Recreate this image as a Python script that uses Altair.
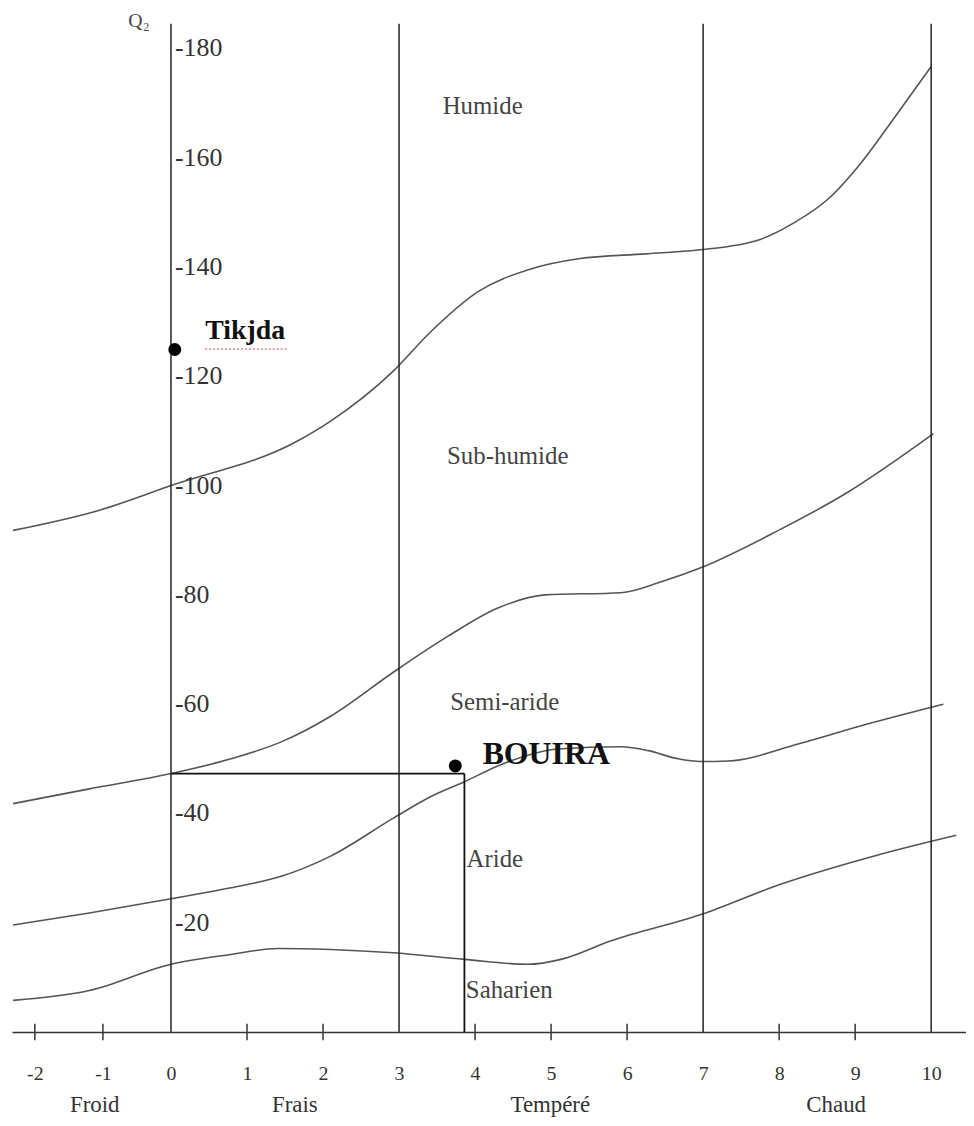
import altair as alt
import pandas as pd

# ---------------- data ----------------
# x: thermal index m (°C), y: Emberger quotient Q2
c1_m = [-2.32, -1.05, 0, 1.67, 2.1, 2.92, 3.42, 4.04, 4.7, 5.36, 6.24, 6.93, 7.76, 8.21, 8.64, 9.08, 9.53, 10.0]
c1_q = [91.8, 95.5, 100, 108.2, 111.8, 120.9, 128.2, 135.5, 139.5, 141.5, 142.4, 143.1, 145.1, 148.2, 152.4, 159.1, 167.6, 176.7]

c2_m = [-2.32, -1.2, 0, 0.79, 1.45, 2.1, 2.92, 3.64, 4.3, 4.92, 5.92, 6.45, 6.96, 7.99, 8.87, 10.03]
c2_q = [41.8, 44.5, 47.3, 50.0, 53.1, 57.8, 65.8, 72.4, 77.6, 80.0, 80.4, 82.4, 84.9, 91.8, 98.5, 109.5]

c3_m = [-2.32, -1.2, 0, 0.79, 1.45, 2.1, 2.92, 3.42, 3.86, 4.3, 5.09, 5.92, 6.28, 6.67, 6.97, 7.33, 8.25, 9.17, 10.16]
c3_q = [19.6, 21.8, 24.4, 26.4, 28.5, 32.2, 39.1, 43.1, 45.8, 48.7, 51.8, 52.2, 51.5, 50.0, 49.5, 49.6, 52.7, 56.4, 60.0]

c4_m = [-2.32, -1.2, 0, 0.79, 1.41, 2.1, 2.92, 3.86, 4.7, 5.13, 5.79, 6.97, 7.99, 9.3, 10.33]
c4_q = [5.8, 7.6, 12.4, 14.2, 15.3, 15.1, 14.5, 13.3, 12.4, 13.3, 16.7, 21.5, 26.9, 32.4, 36.0]

vlines_m = [0, 3, 7, 10]
vline_top = 184.5

x_ticks = [-2, -1, 0, 1, 2, 3, 4, 5, 6, 7, 8, 9, 10]
x_minor_ticks = [-2, -1, 1, 2, 4, 5, 6, 8, 9]

y_label_vals = [180, 160, 140, 120, 100, 80, 60, 40, 20]
y_label_txt = ["-180", "-160", "-140", "-120", "-100", "-80", "-60", "-40", "-20"]

zone_names = ["Humide", "Sub-humide", "Semi-aride", "Aride", "Saharien"]
zone_m = [4.1, 4.43, 4.39, 4.26, 4.45]
zone_q = [169.5, 105.4, 60.4, 31.6, 7.6]

temp_names = ["Froid", "Frais", "Tempéré", "Chaud"]
temp_m = [-1.12, 1.63, 4.99, 8.75]
temp_q = [-13.4, -13.4, -13.4, -13.4]

station_names = ["Tikjda", "BOUIRA"]
station_m = [0.05, 3.74]
station_q = [124.9, 48.7]
label_m = [0.45, 4.1]
label_q = [128.2, 50.9]

bouira_m = 3.86
bouira_q = 47.3

# spell-check squiggle under "Tikjda" in the source document
squiggle_m = [0.45, 1.55]
squiggle_q = [125.0]

# ---------------- frames ----------------
curves = []
for name, ms, qs in [("c1", c1_m, c1_q), ("c2", c2_m, c2_q), ("c3", c3_m, c3_q), ("c4", c4_m, c4_q)]:
    for i, (m, q) in enumerate(zip(ms, qs)):
        curves.append({"curve": name, "o": i, "m": m, "q": q})
curves_df = pd.DataFrame(curves)

vl_df = pd.DataFrame({"m": vlines_m, "q0": [0] * len(vlines_m), "q1": [vline_top] * len(vlines_m)})
tick_df = pd.DataFrame({"m": x_minor_ticks, "q0": [-1.5] * len(x_minor_ticks), "q1": [1.5] * len(x_minor_ticks)})
ylab_df = pd.DataFrame({"m": [0] * len(y_label_vals), "q": y_label_vals, "t": y_label_txt})
zone_df = pd.DataFrame({"m": zone_m, "q": zone_q, "t": zone_names})
temp_df = pd.DataFrame({"m": temp_m, "q": temp_q, "t": temp_names})
st_df = pd.DataFrame({"m": station_m, "q": station_q, "t": station_names})
tik_df = pd.DataFrame({"m": label_m[:1], "q": label_q[:1], "t": station_names[:1]})
bou_df = pd.DataFrame({"m": label_m[1:], "q": label_q[1:], "t": station_names[1:]})
hline_df = pd.DataFrame({"m0": [0], "m1": [bouira_m], "q": [bouira_q]})
vline2_df = pd.DataFrame({"m": [bouira_m], "q0": [0], "q1": [bouira_q]})
q2_df = pd.DataFrame({"m": [-0.47], "q": [185.0], "t": ["Q₂"]})
sq_df = pd.DataFrame({"m0": [squiggle_m[0]], "m1": [squiggle_m[1]], "q": squiggle_q})

SERIF = "Liberation Serif"
# the printed axis is compressed on its negative side: piecewise linear scale
xs = alt.Scale(domain=[-2.336, 0, 10.458], range=[0, 160, 960], nice=False, zero=False)
ys = alt.Scale(domain=[0, 186.4], nice=False, zero=False)

x_axis = alt.Axis(values=x_ticks, grid=False, ticks=False, tickSize=0, domain=True,
                  domainColor="#333333", domainWidth=1.5, labelFont=SERIF, labelFontSize=20,
                  labelColor="#333333", labelPadding=42, labelBaseline="middle",
                  labelExpr="'' + datum.value",
                  labelFlush=False, labelOverlap=False, title=None)


def X(field="m"):
    return alt.X(f"{field}:Q", scale=xs, axis=x_axis)


def Y(field="q"):
    return alt.Y(f"{field}:Q", scale=ys, axis=None)


curves_layer = alt.Chart(curves_df).mark_line(color="#555555", strokeWidth=1.6, interpolate="monotone").encode(
    x=X(), y=Y(), detail="curve:N", order="o:Q")

vl_layer = alt.Chart(vl_df).mark_rule(color="#222222", strokeWidth=1.5).encode(
    x=X(), y=Y("q0"), y2="q1:Q")

tick_layer = alt.Chart(tick_df).mark_rule(color="#333333", strokeWidth=1.5).encode(
    x=X(), y=Y("q0"), y2="q1:Q")

h_layer = alt.Chart(hline_df).mark_rule(color="#111111", strokeWidth=1.8).encode(
    x=X("m0"), x2="m1:Q", y=Y())

v2_layer = alt.Chart(vline2_df).mark_rule(color="#111111", strokeWidth=1.8).encode(
    x=X(), y=Y("q0"), y2="q1:Q")

ylab_layer = alt.Chart(ylab_df).mark_text(font=SERIF, fontSize=26, color="#333333", align="left",
                                          baseline="middle", dx=4).encode(
    x=X(), y=Y(), text="t:N")

zone_layer = alt.Chart(zone_df).mark_text(font=SERIF, fontSize=25, color="#444444", align="center",
                                          baseline="middle").encode(
    x=X(), y=Y(), text="t:N")

temp_layer = alt.Chart(temp_df).mark_text(font=SERIF, fontSize=23, color="#333333", align="center",
                                          baseline="middle").encode(
    x=X(), y=Y(), text="t:N")

pt_layer = alt.Chart(st_df).mark_point(shape="circle", filled=True, color="#000000", size=170, opacity=1).encode(
    x=X(), y=Y())

tik_layer = alt.Chart(tik_df).mark_text(font=SERIF, fontWeight="bold", fontSize=28, color="#111111",
                                        align="left", baseline="middle").encode(
    x=X(), y=Y(), text="t:N")

sq_layer = alt.Chart(sq_df).mark_rule(color="#d04a4a", strokeWidth=1.2, strokeDash=[2, 2]).encode(
    x=X("m0"), x2="m1:Q", y=Y())

bou_layer = alt.Chart(bou_df).mark_text(font=SERIF, fontWeight="bold", fontSize=32, color="#111111",
                                        align="left", baseline="middle").encode(
    x=X(), y=Y(), text="t:N")

q2_layer = alt.Chart(q2_df).mark_text(font=SERIF, fontSize=20, color="#444444", align="center",
                                      baseline="middle").encode(
    x=X(), y=Y(), text="t:N")

chart = alt.layer(
    curves_layer, vl_layer, tick_layer, h_layer, v2_layer, ylab_layer, zone_layer,
    temp_layer, pt_layer, sq_layer, tik_layer, bou_layer, q2_layer
).properties(
    width=960, height=1025,
    autosize=alt.AutoSizeParams(type="none"),
    padding={"left": 4, "top": 2, "right": 0, "bottom": 83},
    background="white",
).configure_view(stroke=None)

chart.save("out.html", embed_options={"renderer": "svg", "actions": False})
